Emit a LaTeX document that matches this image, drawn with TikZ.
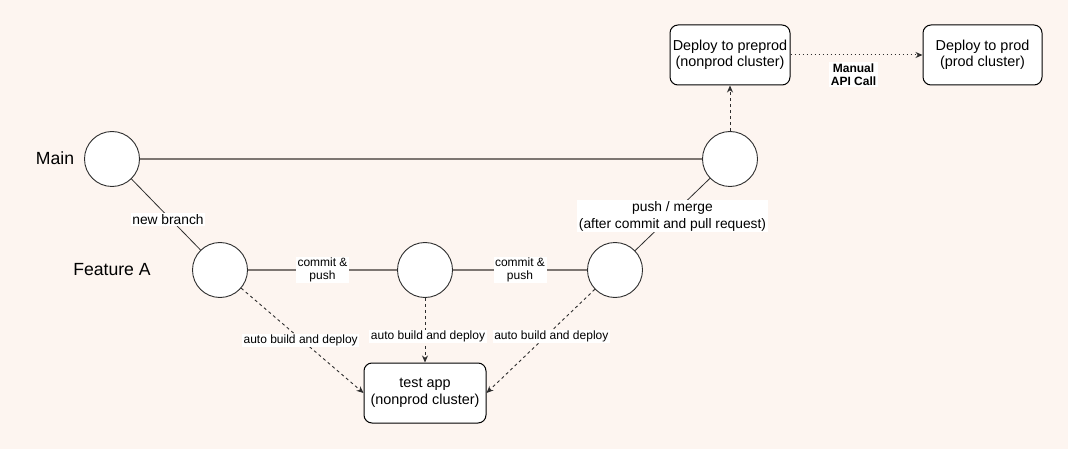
\documentclass[tikz,border=0pt]{standalone}
\usepackage{fontspec}
\setmainfont{Liberation Sans}
\usetikzlibrary{arrows.meta,calc}
\definecolor{bg}{RGB}{253,245,240}
\definecolor{ln}{RGB}{45,45,45}
\definecolor{gl}{RGB}{125,118,114}
\begin{document}
\begin{tikzpicture}[x=1pt,y=-1pt,
  commit/.style={circle, draw=ln, fill=white, line width=0.9pt, minimum size=55pt, inner sep=0pt},
  box/.style={draw=black, fill=white, rounded corners=8pt, line width=1pt, minimum width=120pt, minimum height=60pt, align=center, inner sep=0pt, font=\fontsize{14.4}{16.5}\selectfont},
  trunk/.style={draw=gl, line width=1.8pt},
  branchln/.style={draw=ln, line width=0.8pt},
  deploy/.style={draw=ln, line width=0.9pt, dash pattern=on 3pt off 3pt, -{Stealth[length=7pt,width=6pt]}},
  manual/.style={draw=ln, line width=1pt, dash pattern=on 1pt off 3pt, -{Stealth[length=7pt,width=6pt]}},
  lbl/.style={fill=white, inner xsep=1.5pt, inner ysep=1pt, align=center, font=\fontsize{12}{13.5}\selectfont},
  biglbl/.style={fill=white, inner xsep=1.5pt, inner ysep=1pt, align=center, font=\fontsize{13.8}{17}\selectfont},
  rowlbl/.style={font=\fontsize{17.6}{20}\selectfont, inner sep=0pt}
]
\fill[bg] (0,0) rectangle (1068,449);
\useasboundingbox (0,0) rectangle (1068,449);

% commits
\node[commit] (m1) at (112,159) {};
\node[commit] (m2) at (730,159) {};
\node[commit] (f1) at (220,270) {};
\node[commit] (f2) at (425,270) {};
\node[commit] (f3) at (615,270) {};

% row labels
\node[rowlbl] (lmain) at (55,158) {Main};
\node[rowlbl] (lfeat) at (112,270) {Feature A};

% boxes
\node[box] (pre) at (730,55) {Deploy to preprod\\(nonprod cluster)};
\node[box, minimum width=119pt] (prod) at (982.5,55) {Deploy to prod\\(prod cluster)};
\node[box, minimum width=122pt] (tapp) at (425,393) {test app\\(nonprod cluster)};

% connectors
\draw[trunk] (m1) -- (m2);
\draw[branchln] (m1) -- node[biglbl, xshift=2pt, yshift=-5pt] {new branch} (f1);
\draw[trunk] (f1) -- node[lbl] {commit \&\\push} (f2);
\draw[trunk] (f2) -- node[lbl] {commit \&\\push} (f3);
\draw[branchln] (f3) -- node[biglbl, yshift=-1.5pt] {push / merge\\(after commit and pull request)} (m2);

\draw[deploy] (f1) -- node[lbl, pos=0.47, xshift=2pt, yshift=-3pt] {auto build and deploy} (tapp.west);
\draw[deploy] (f2) -- node[lbl, pos=0.55, xshift=3pt, yshift=-3pt] {auto build and deploy} (tapp);
\draw[deploy] (f3) -- node[lbl, pos=0.42, xshift=2pt, yshift=-4pt] {auto build and deploy} (tapp.east);

\draw[deploy] (m2) -- (pre);
\draw[manual] (pre) -- node[lbl, xshift=-3pt, yshift=-19.5pt, font=\bfseries\fontsize{12}{13.5}\selectfont] {Manual\\API Call} (prod);
\end{tikzpicture}
\end{document}
